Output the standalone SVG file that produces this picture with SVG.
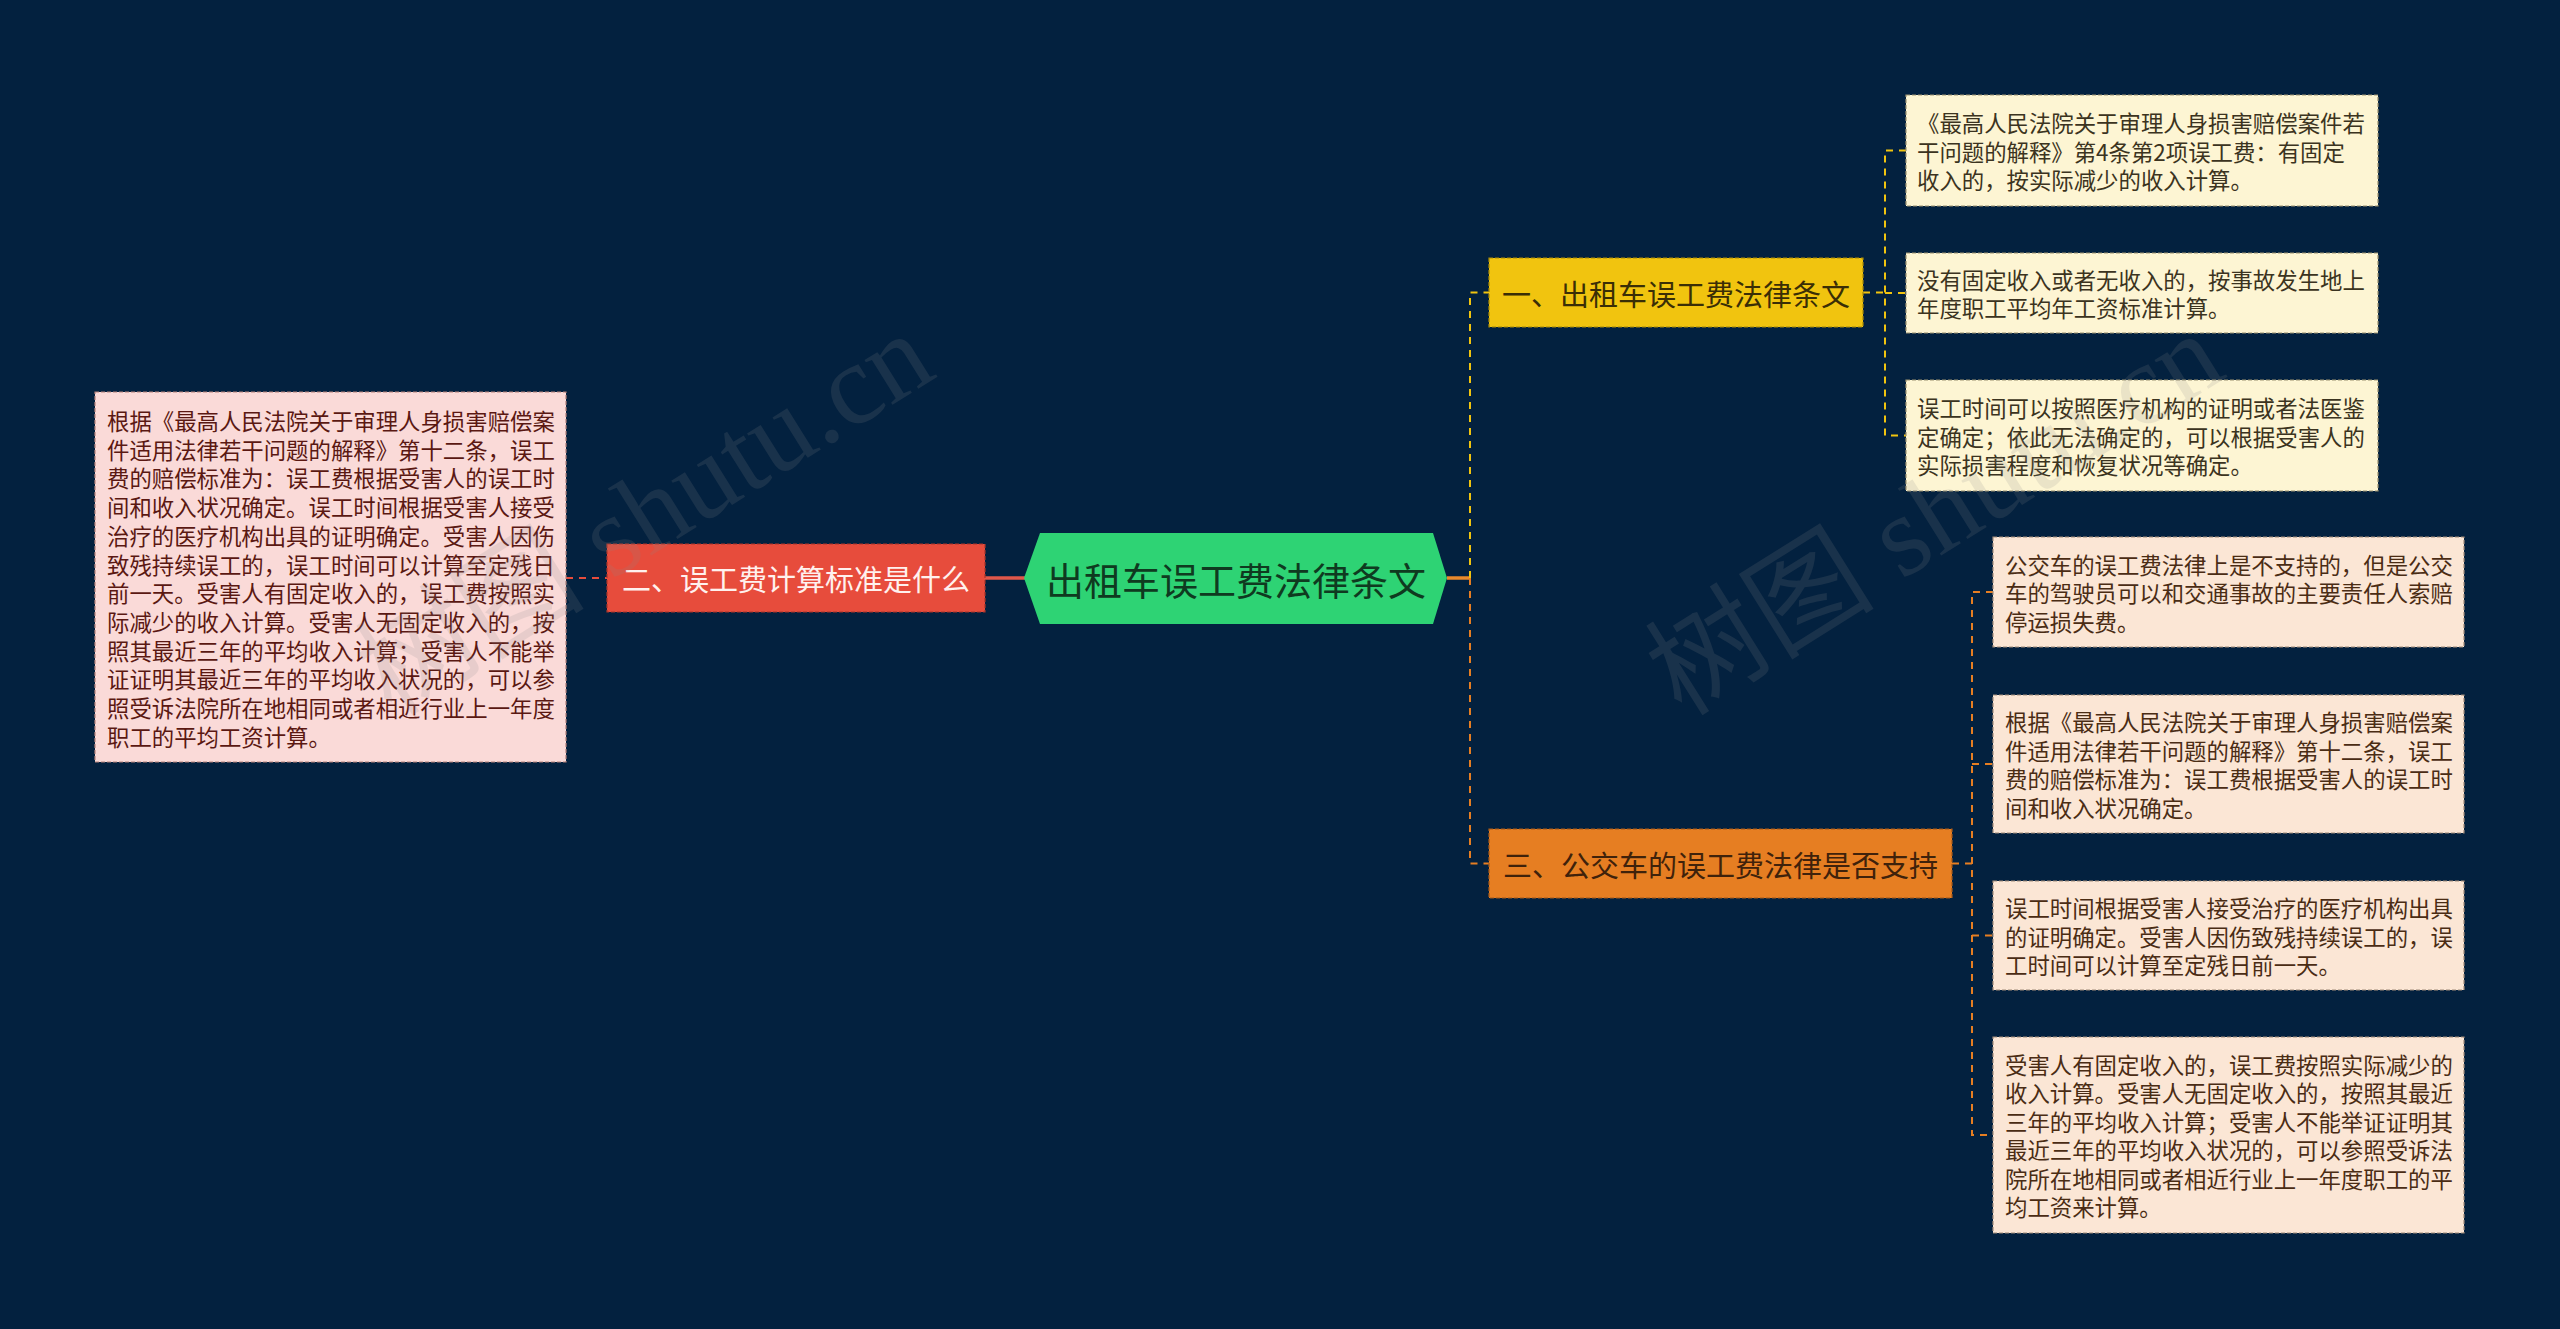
<svg xmlns="http://www.w3.org/2000/svg" width="2560" height="1329" viewBox="0 0 2560 1329">
<style>
.t{font-family:"Noto Sans CJK SC","Liberation Sans",sans-serif;dominant-baseline:central}
.leaf{font-size:22.4px}
.lvl1{font-size:29px;text-anchor:middle}
.dash{fill:none;stroke-width:2;stroke-dasharray:7 6}
.nb{stroke-width:1.2;stroke-dasharray:4 2}
.wm{font-family:"Liberation Serif","Noto Sans CJK SC",serif;font-size:115px;fill:#8a8a8a;opacity:0.16;text-anchor:middle;dominant-baseline:central}
</style>
<rect width="2560" height="1329" fill="#03213f"/>
<g id="connectors">
  <line x1="985" y1="578" x2="1025" y2="578" stroke="#e0574a" stroke-width="3.5"/>
  <line x1="566" y1="578" x2="607" y2="578" class="dash" stroke="#e74c3c"/>
  <line x1="1447" y1="578" x2="1470" y2="578" stroke="#e9892c" stroke-width="3.5"/>
  <path d="M1470 578 V292.5 H1489" class="dash" stroke="#f1c40f"/>
  <path d="M1470 578 V863.5 H1489" class="dash" stroke="#e67e22"/>
  <path d="M1863 292.5 H1885" class="dash" stroke="#f1c40f"/>
  <path d="M1906 150.5 H1885 V435.5 H1906 M1885 293 H1906" class="dash" stroke="#f1c40f"/>
  <path d="M1952 863.5 H1972" class="dash" stroke="#e67e22"/>
  <path d="M1993 592 H1972 V1135 H1993 M1972 764 H1993 M1972 935.5 H1993" class="dash" stroke="#e67e22"/>
</g>
<g id="root">
  <polygon points="1024,578 1040,533 1433,533 1447,578 1433,624 1040,624" fill="#2ed374"/>
  <text class="t" x="1236" y="578" font-size="38" text-anchor="middle" fill="#0f3a20">出租车误工费法律条文</text>
</g>
<g id="n2">
  <rect x="607" y="544" width="378" height="68" fill="#e74c3c" stroke="#a9352a" class="nb"/>
  <text class="t lvl1" x="796" y="578" fill="#fff1ee">二、误工费计算标准是什么</text>
</g>
<g id="n2a">
  <rect x="95" y="392" width="471" height="370" fill="#fadad8" stroke="#b5817b" class="nb"/>
  <text class="t leaf" fill="#5a1812">
    <tspan x="107" y="420">根据《最高人民法院关于审理人身损害赔偿案</tspan>
    <tspan x="107" y="448.7">件适用法律若干问题的解释》第十二条，误工</tspan>
    <tspan x="107" y="477.4">费的赔偿标准为：误工费根据受害人的误工时</tspan>
    <tspan x="107" y="506.1">间和收入状况确定。误工时间根据受害人接受</tspan>
    <tspan x="107" y="534.8">治疗的医疗机构出具的证明确定。受害人因伤</tspan>
    <tspan x="107" y="563.5">致残持续误工的，误工时间可以计算至定残日</tspan>
    <tspan x="107" y="592.2">前一天。受害人有固定收入的，误工费按照实</tspan>
    <tspan x="107" y="620.9">际减少的收入计算。受害人无固定收入的，按</tspan>
    <tspan x="107" y="649.6">照其最近三年的平均收入计算；受害人不能举</tspan>
    <tspan x="107" y="678.3">证证明其最近三年的平均收入状况的，可以参</tspan>
    <tspan x="107" y="707">照受诉法院所在地相同或者相近行业上一年度</tspan>
    <tspan x="107" y="735.7">职工的平均工资计算。</tspan>
  </text>
</g>
<g id="n1">
  <rect x="1489" y="258" width="374" height="69" fill="#f1c40f" stroke="#a88a08" class="nb"/>
  <text class="t lvl1" x="1676" y="292.5" fill="#3a2e06">一、出租车误工费法律条文</text>
</g>
<g id="n1a">
  <rect x="1906" y="95" width="472" height="111" fill="#fdf5d3" stroke="#9c9170" class="nb"/>
  <text class="t leaf" fill="#3b3320">
    <tspan x="1917" y="122">《最高人民法院关于审理人身损害赔偿案件若</tspan>
    <tspan x="1917" y="150.5">干问题的解释》第4条第2项误工费：有固定</tspan>
    <tspan x="1917" y="179">收入的，按实际减少的收入计算。</tspan>
  </text>
</g>
<g id="n1b">
  <rect x="1906" y="253" width="472" height="80" fill="#fdf5d3" stroke="#9c9170" class="nb"/>
  <text class="t leaf" fill="#3b3320">
    <tspan x="1917" y="278.8">没有固定收入或者无收入的，按事故发生地上</tspan>
    <tspan x="1917" y="307.3">年度职工平均年工资标准计算。</tspan>
  </text>
</g>
<g id="n1c">
  <rect x="1906" y="380" width="472" height="111" fill="#fdf5d3" stroke="#9c9170" class="nb"/>
  <text class="t leaf" fill="#3b3320">
    <tspan x="1917" y="407">误工时间可以按照医疗机构的证明或者法医鉴</tspan>
    <tspan x="1917" y="435.5">定确定；依此无法确定的，可以根据受害人的</tspan>
    <tspan x="1917" y="464">实际损害程度和恢复状况等确定。</tspan>
  </text>
</g>
<g id="n3">
  <rect x="1489" y="829" width="463" height="69" fill="#e67e22" stroke="#a4591a" class="nb"/>
  <text class="t lvl1" x="1720.5" y="863.5" fill="#3f220b">三、公交车的误工费法律是否支持</text>
</g>
<g id="n3a">
  <rect x="1993" y="537" width="471" height="110" fill="#fbe6d5" stroke="#a28b7a" class="nb"/>
  <text class="t leaf" fill="#4a2c14">
    <tspan x="2005" y="563.5">公交车的误工费法律上是不支持的，但是公交</tspan>
    <tspan x="2005" y="592">车的驾驶员可以和交通事故的主要责任人索赔</tspan>
    <tspan x="2005" y="620.5">停运损失费。</tspan>
  </text>
</g>
<g id="n3b">
  <rect x="1993" y="695" width="471" height="138" fill="#fbe6d5" stroke="#a28b7a" class="nb"/>
  <text class="t leaf" fill="#4a2c14">
    <tspan x="2005" y="721.3">根据《最高人民法院关于审理人身损害赔偿案</tspan>
    <tspan x="2005" y="749.8">件适用法律若干问题的解释》第十二条，误工</tspan>
    <tspan x="2005" y="778.3">费的赔偿标准为：误工费根据受害人的误工时</tspan>
    <tspan x="2005" y="806.8">间和收入状况确定。</tspan>
  </text>
</g>
<g id="n3c">
  <rect x="1993" y="881" width="471" height="109" fill="#fbe6d5" stroke="#a28b7a" class="nb"/>
  <text class="t leaf" fill="#4a2c14">
    <tspan x="2005" y="907">误工时间根据受害人接受治疗的医疗机构出具</tspan>
    <tspan x="2005" y="935.5">的证明确定。受害人因伤致残持续误工的，误</tspan>
    <tspan x="2005" y="964">工时间可以计算至定残日前一天。</tspan>
  </text>
</g>
<g id="n3d">
  <rect x="1993" y="1037" width="471" height="196" fill="#fbe6d5" stroke="#a28b7a" class="nb"/>
  <text class="t leaf" fill="#4a2c14">
    <tspan x="2005" y="1063.8">受害人有固定收入的，误工费按照实际减少的</tspan>
    <tspan x="2005" y="1092.3">收入计算。受害人无固定收入的，按照其最近</tspan>
    <tspan x="2005" y="1120.8">三年的平均收入计算；受害人不能举证证明其</tspan>
    <tspan x="2005" y="1149.3">最近三年的平均收入状况的，可以参照受诉法</tspan>
    <tspan x="2005" y="1177.8">院所在地相同或者相近行业上一年度职工的平</tspan>
    <tspan x="2005" y="1206.3">均工资来计算。</tspan>
  </text>
</g>
<g id="watermark">
  <text class="wm" x="645" y="514" transform="rotate(-32 645 514)">树图 shutu.cn</text>
  <text class="wm" x="1935" y="514" transform="rotate(-32 1935 514)">树图 shutu.cn</text>
</g>
</svg>
